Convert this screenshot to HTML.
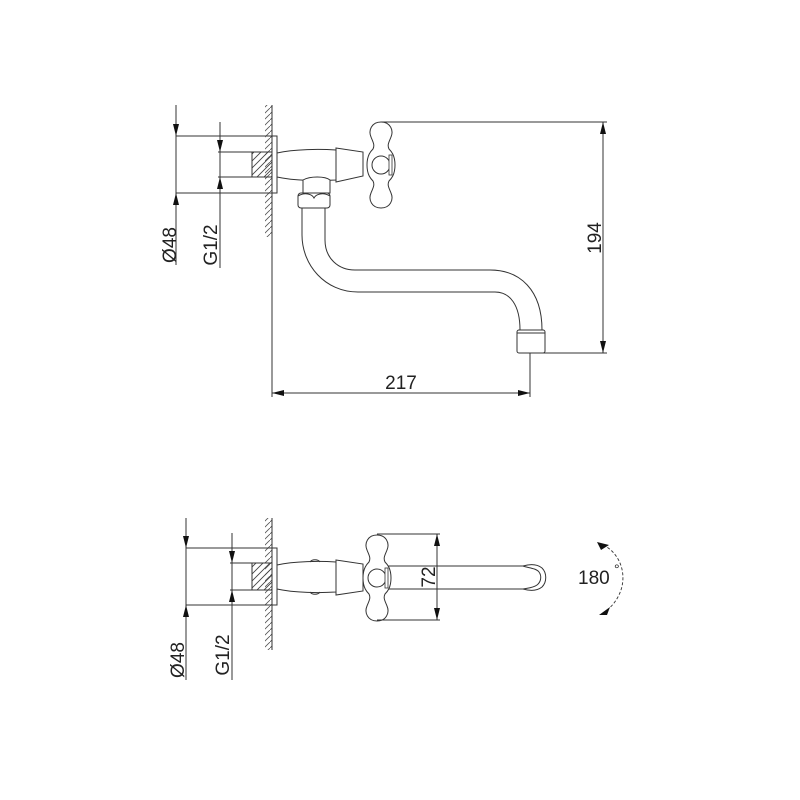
<!DOCTYPE html>
<html><head><meta charset="utf-8"><style>
html,body{margin:0;padding:0;background:#fff;width:800px;height:800px;overflow:hidden}
svg{display:block}
text{font-family:"Liberation Sans",sans-serif;fill:#222}
</style></head><body>
<svg width="800" height="800" viewBox="0 0 800 800" xmlns="http://www.w3.org/2000/svg">
<defs>
<pattern id="hw" width="6" height="6" patternUnits="userSpaceOnUse">
<path d="M0,6 L6,0" stroke="#555" stroke-width="0.8"/>
</pattern>
<pattern id="hb" width="7" height="7" patternUnits="userSpaceOnUse">
<path d="M-1,8 L8,-1 M-1,1 L1,-1 M6,8 L8,6" stroke="#444" stroke-width="0.9"/>
</pattern>
<marker id="ar" viewBox="0 0 12 6" refX="12" refY="3" markerWidth="12" markerHeight="6" orient="auto" markerUnits="userSpaceOnUse">
<path d="M0,0 L12,3 L0,6 Z" fill="#111"/>
</marker>
<g id="handle">
<path d="M0,-43 C-9,-43 -13,-35 -10,-28 C-8,-23 -6,-20 -8,-16 C-10,-14 -14,-10 -14,0 C-14,10 -10,14 -8,16 C-6,20 -8,23 -10,28 C-13,35 -9,43 0,43 C9,43 13,35 10,28 C8,23 6,20 8,16 C10,14 14,10 14,0 C14,-10 10,-14 8,-16 C6,-20 8,-23 10,-28 C13,-35 9,-43 0,-43 Z" fill="#fff" stroke="#333" stroke-width="1"/>
<circle r="9" fill="none" stroke="#333" stroke-width="1"/>
<rect x="8" y="-10" width="3" height="20" fill="#fff" stroke="#333" stroke-width="0.8"/>
</g>
</defs>
<g fill="none" stroke="#333" stroke-width="1">
<rect x="265" y="105" width="7" height="132" fill="url(#hw)" stroke="none"/>
<line x1="272" y1="105" x2="272" y2="397"/>
<rect x="272" y="136" width="5" height="57" fill="#fff"/>
<rect x="252" y="152" width="20" height="25" fill="url(#hb)"/>
<line x1="176" y1="136" x2="277" y2="136"/>
<line x1="176" y1="193" x2="277" y2="193"/>
<line x1="218" y1="152" x2="252" y2="152"/>
<line x1="218" y1="177" x2="252" y2="177"/>
<line x1="176" y1="105" x2="176" y2="136" marker-end="url(#ar)"/>
<line x1="176" y1="265" x2="176" y2="193" marker-end="url(#ar)"/>
<line x1="176" y1="136" x2="176" y2="193"/>
<line x1="220" y1="122" x2="220" y2="152" marker-end="url(#ar)"/>
<line x1="220" y1="268" x2="220" y2="177" marker-end="url(#ar)"/>
<line x1="220" y1="152" x2="220" y2="177"/>
<path d="M277,153 C295,149 320,149 336,150 L336,180 C320,181 295,181 277,177 Z" fill="#fff"/>
<path d="M336,148 L363,152 L363,176 L336,182 Z" fill="#fff"/>
<path d="M303,180 C310,176 325,176 330,180 L330,193 L303,193 Z" fill="#fff"/>
<path d="M302,208 L302,235 C302,265 325,292 358,292 L495,292 C510,292 520,305 520,330 M325,208 L325,240 C325,258 338,270 355,270 L490,270 C520,270 542,290 542,330" />
<rect x="298" y="193" width="32" height="15" rx="3" fill="#fff"/>
<path d="M298,196 C305,192 312,194 314,198 C316,194 323,192 330,196"/>
<rect x="517" y="330" width="28" height="23" rx="2" fill="#fff"/>
<line x1="517" y1="333" x2="545" y2="333"/>
<use href="#handle" x="381" y="165"/>
<line x1="381" y1="122" x2="607" y2="122"/>
<line x1="530" y1="353" x2="607" y2="353"/>
<line x1="603" y1="238" x2="603" y2="122" marker-end="url(#ar)"/>
<line x1="603" y1="238" x2="603" y2="353" marker-end="url(#ar)"/>
<line x1="530" y1="353" x2="530" y2="397"/>
<line x1="400" y1="393" x2="272" y2="393" marker-end="url(#ar)"/>
<line x1="400" y1="393" x2="530" y2="393" marker-end="url(#ar)"/>

<rect x="265" y="518" width="7" height="132" fill="url(#hw)" stroke="none"/>
<line x1="272" y1="518" x2="272" y2="650"/>
<rect x="272" y="548" width="5" height="57" fill="#fff"/>
<rect x="252" y="563" width="20" height="27" fill="url(#hb)"/>
<line x1="186" y1="548" x2="277" y2="548"/>
<line x1="186" y1="605" x2="277" y2="605"/>
<line x1="230" y1="563" x2="252" y2="563"/>
<line x1="230" y1="590" x2="252" y2="590"/>
<line x1="186" y1="518" x2="186" y2="548" marker-end="url(#ar)"/>
<line x1="186" y1="680" x2="186" y2="605" marker-end="url(#ar)"/>
<line x1="186" y1="548" x2="186" y2="605"/>
<line x1="232" y1="533" x2="232" y2="563" marker-end="url(#ar)"/>
<line x1="232" y1="680" x2="232" y2="590" marker-end="url(#ar)"/>
<line x1="232" y1="563" x2="232" y2="590"/>
<path d="M277,565 C295,561 320,561 336,562 L336,592 C320,593 295,593 277,589 Z" fill="#fff"/>
<path d="M310,562 C312,559 318,559 320,562 M310,592 C312,595 318,595 320,592"/>
<path d="M336,560 L363,564 L363,591 L336,595 Z" fill="#fff"/>
<path d="M388,566 L523,566 M388,589 L523,589"/>
<path d="M523,566 C530,564 537,564 542,568 C547,573 547,582 542,587 C537,591 530,591 523,589"/>
<path d="M523,566 C528,568 536,568 539,572 C542,576 541,582 537,585 C533,588 528,588 523,589"/>
<use href="#handle" x="377" y="578"/>
<line x1="377" y1="534" x2="440" y2="534"/>
<line x1="377" y1="620" x2="440" y2="620"/>
<line x1="437" y1="577" x2="437" y2="534" marker-end="url(#ar)"/>
<line x1="437" y1="577" x2="437" y2="620" marker-end="url(#ar)"/>
<path d="M603,545 C625,555 633,590 605,612" stroke-dasharray="3,2" stroke-width="0.9"/>
<path d="M597,542 L609,545 L601,550 Z" fill="#111" stroke="none"/>
<path d="M599,615 L610,607 L607,615 Z" fill="#111" stroke="none"/>
</g>
<g font-size="19">
<text transform="translate(176,245) rotate(-90)" text-anchor="middle">Ø48</text>
<text transform="translate(217,245) rotate(-90)" text-anchor="middle">G1/2</text>
<text transform="translate(601,238) rotate(-90)" text-anchor="middle">194</text>
<text x="401" y="389" text-anchor="middle">217</text>
<text transform="translate(184,660) rotate(-90)" text-anchor="middle">Ø48</text>
<text transform="translate(229,655) rotate(-90)" text-anchor="middle">G1/2</text>
<text transform="translate(435,577) rotate(-90)" text-anchor="middle">72</text>
<text x="578" y="584">180</text>
<text x="614" y="574" font-size="14">°</text>
</g>
</svg>
</body></html>
